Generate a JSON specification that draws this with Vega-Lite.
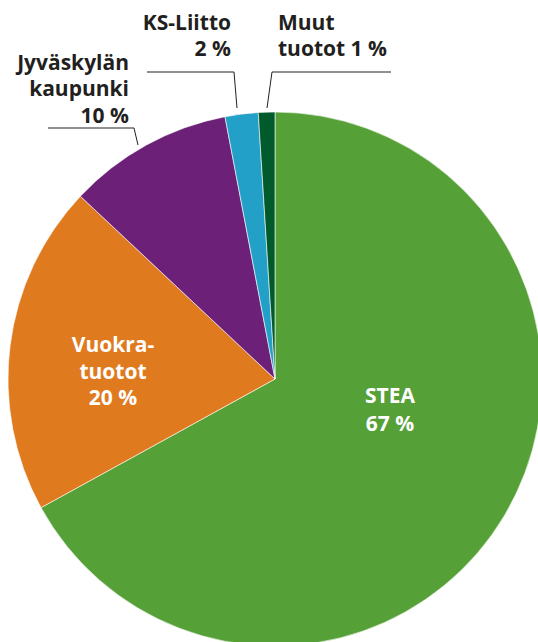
{
  "$schema": "https://vega.github.io/schema/vega-lite/v6.json",
  "width": 526,
  "height": 526,
  "autosize": {"type": "none"},
  "padding": {"left": 12, "top": 116, "right": 0, "bottom": 0},
  "background": "white",
  "config": {"view": {"stroke": null}},
  "datasets": {
    "slices": [
      {"category": "STEA", "value": 67},
      {"category": "Vuokratuotot", "value": 20},
      {"category": "Jyväskylän kaupunki", "value": 10},
      {"category": "KS-Liitto", "value": 2},
      {"category": "Muut tuotot", "value": 1}
    ],
    "labels": [
      {"category": "STEA", "text": "STEA\n67 %", "x": 115, "y": -24},
      {"category": "Vuokratuotot", "text": "Vuokra-\ntuotot\n20 %", "x": -162, "y": 27},
      {"category": "Jyväskylän kaupunki", "text": "Jyväskylän\nkaupunki\n10 %", "x": -146, "y": 309.5},
      {"category": "KS-Liitto", "text": "KS-Liitto\n2 %", "x": -44, "y": 348.9},
      {"category": "Muut tuotot", "text": "Muut\ntuotot 1 %", "x": 3, "y": 348.9}
    ],
    "leaders": [
      {"x": -227, "y": 251, "x2": -141, "y2": 251},
      {"x": -141, "y": 251, "x2": -137, "y2": 234},
      {"x": -128, "y": 307, "x2": -41, "y2": 307},
      {"x": -41, "y": 307, "x2": -38, "y2": 271},
      {"x": -3, "y": 307, "x2": 116, "y2": 307},
      {"x": -3, "y": 307, "x2": -8, "y2": 271}
    ]
  },
  "layer": [
    {
      "data": {"name": "slices"},
      "mark": {"type": "arc", "radius": 267, "stroke": "white", "strokeWidth": 0.6},
      "encoding": {
        "theta": {"field": "value", "type": "quantitative", "stack": true},
        "order": {"field": "value", "type": "quantitative", "sort": "descending"},
        "color": {
          "field": "category",
          "type": "nominal",
          "legend": null,
          "scale": {
            "domain": ["STEA", "Vuokratuotot", "Jyväskylän kaupunki", "KS-Liitto", "Muut tuotot"],
            "range": ["#56a038", "#e07a1f", "#6d2077", "#22a0c8", "#005a2b"]
          }
        }
      }
    },
    {
      "data": {"name": "leaders"},
      "mark": {"type": "rule", "color": "#231f20", "strokeWidth": 1},
      "encoding": {
        "x": {"field": "x", "type": "quantitative", "axis": null, "scale": {"domain": [-263, 263], "nice": false, "zero": false}},
        "y": {"field": "y", "type": "quantitative", "axis": null, "scale": {"domain": [-263, 263], "nice": false, "zero": false}},
        "x2": {"field": "x2"},
        "y2": {"field": "y2"}
      }
    },
    {
      "data": {"name": "labels"},
      "transform": [{"filter": "datum.category === 'STEA'"}],
      "mark": {"type": "text", "font": "Open Sans", "fontWeight": "bold", "fontSize": 21, "color": "white", "align": "center", "baseline": "alphabetic", "lineBreak": "\n", "lineHeight": 28},
      "encoding": {
        "x": {"field": "x", "type": "quantitative", "axis": null, "scale": {"domain": [-263, 263], "nice": false, "zero": false}},
        "y": {"field": "y", "type": "quantitative", "axis": null, "scale": {"domain": [-263, 263], "nice": false, "zero": false}},
        "text": {"field": "text", "type": "nominal"}
      }
    },
    {
      "data": {"name": "labels"},
      "transform": [{"filter": "datum.category === 'Vuokratuotot'"}],
      "mark": {"type": "text", "font": "Open Sans", "fontWeight": "bold", "fontSize": 21, "color": "white", "align": "center", "baseline": "alphabetic", "lineBreak": "\n", "lineHeight": 26.5},
      "encoding": {
        "x": {"field": "x", "type": "quantitative", "axis": null, "scale": {"domain": [-263, 263], "nice": false, "zero": false}},
        "y": {"field": "y", "type": "quantitative", "axis": null, "scale": {"domain": [-263, 263], "nice": false, "zero": false}},
        "text": {"field": "text", "type": "nominal"}
      }
    },
    {
      "data": {"name": "labels"},
      "transform": [{"filter": "datum.category === 'Jyväskylän kaupunki'"}],
      "mark": {"type": "text", "font": "Open Sans", "fontWeight": "bold", "fontSize": 21, "color": "#231f20", "align": "right", "baseline": "alphabetic", "lineBreak": "\n", "lineHeight": 26.5},
      "encoding": {
        "x": {"field": "x", "type": "quantitative", "axis": null, "scale": {"domain": [-263, 263], "nice": false, "zero": false}},
        "y": {"field": "y", "type": "quantitative", "axis": null, "scale": {"domain": [-263, 263], "nice": false, "zero": false}},
        "text": {"field": "text", "type": "nominal"}
      }
    },
    {
      "data": {"name": "labels"},
      "transform": [{"filter": "datum.category === 'KS-Liitto'"}],
      "mark": {"type": "text", "font": "Open Sans", "fontWeight": "bold", "fontSize": 21, "color": "#231f20", "align": "right", "baseline": "alphabetic", "lineBreak": "\n", "lineHeight": 25.5},
      "encoding": {
        "x": {"field": "x", "type": "quantitative", "axis": null, "scale": {"domain": [-263, 263], "nice": false, "zero": false}},
        "y": {"field": "y", "type": "quantitative", "axis": null, "scale": {"domain": [-263, 263], "nice": false, "zero": false}},
        "text": {"field": "text", "type": "nominal"}
      }
    },
    {
      "data": {"name": "labels"},
      "transform": [{"filter": "datum.category === 'Muut tuotot'"}],
      "mark": {"type": "text", "font": "Open Sans", "fontWeight": "bold", "fontSize": 21, "color": "#231f20", "align": "left", "baseline": "alphabetic", "lineBreak": "\n", "lineHeight": 25.5},
      "encoding": {
        "x": {"field": "x", "type": "quantitative", "axis": null, "scale": {"domain": [-263, 263], "nice": false, "zero": false}},
        "y": {"field": "y", "type": "quantitative", "axis": null, "scale": {"domain": [-263, 263], "nice": false, "zero": false}},
        "text": {"field": "text", "type": "nominal"}
      }
    }
  ]
}
